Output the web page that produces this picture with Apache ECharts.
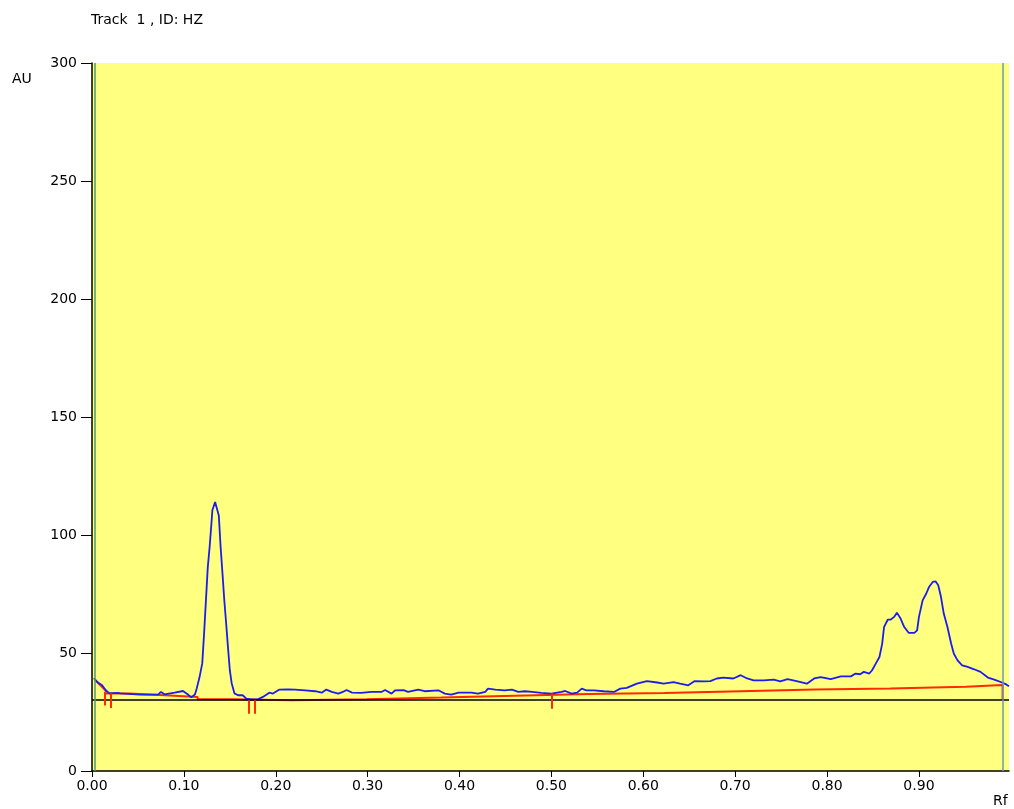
<!DOCTYPE html>
<html>
<head>
<meta charset="utf-8">
<script src="https://cdn.jsdelivr.net/npm/echarts@6/dist/echarts.min.js"></script>
<style>
html,body{margin:0;padding:0;background:#fff;}
#chart{width:1014px;height:809px;}
</style>
</head>
<body>
<div id="chart"></div>
<script>
// ---- data ----
const titleText = 'Track  1 , ID: HZ';
const xTicks = [0, 0.1, 0.2, 0.3, 0.4, 0.5, 0.6, 0.7, 0.8, 0.9];
const yTicks = [0, 50, 100, 150, 200, 250, 300];

const blueRf = [0.002,0.006,0.011,0.015,0.019,0.028,0.031,0.052,0.072,0.075,
0.079,0.090,0.099,0.104,0.108,0.112,0.114,0.117,0.120,0.122,
0.124,0.126,0.128,0.130,0.131,0.134,0.136,0.138,0.140,0.142,
0.144,0.146,0.148,0.150,0.152,0.155,0.159,0.164,0.168,0.173,
0.180,0.186,0.193,0.197,0.204,0.213,0.221,0.232,0.243,0.250,
0.255,0.261,0.268,0.273,0.277,0.283,0.293,0.304,0.315,0.319,
0.326,0.330,0.339,0.344,0.355,0.362,0.377,0.384,0.391,0.399,
0.413,0.420,0.428,0.431,0.439,0.449,0.457,0.464,0.471,0.479,
0.489,0.500,0.511,0.515,0.522,0.528,0.533,0.538,0.546,0.557,
0.568,0.575,0.582,0.593,0.604,0.615,0.622,0.633,0.640,0.649,
0.656,0.666,0.673,0.680,0.687,0.698,0.706,0.713,0.720,0.731,
0.742,0.749,0.757,0.768,0.778,0.786,0.793,0.804,0.815,0.826,
0.831,0.836,0.840,0.846,0.849,0.853,0.857,0.860,0.862,0.866,
0.869,0.873,0.876,0.880,0.884,0.889,0.895,0.898,0.900,0.904,
0.908,0.911,0.915,0.918,0.921,0.924,0.927,0.931,0.935,0.938,
0.942,0.947,0.953,0.960,0.967,0.975,0.982,0.989,0.995,0.998];
const blueAU = [39.3,37.6,36.3,34.2,32.9,33.1,32.9,32.4,32.4,33.5,
32.5,33.2,33.9,32.5,31.2,32.4,35.0,39.7,45.6,58.3,
72.3,86.3,94.8,105.0,110.5,114.0,113.4,108.3,94.8,83.8,
72.3,62.6,52.4,42.7,37.2,32.9,32.1,32.1,30.7,30.3,
30.3,31.4,33.2,32.8,34.5,34.6,34.5,34.2,33.8,33.2,
34.5,33.5,32.8,33.5,34.3,33.2,33.1,33.5,33.5,34.3,
32.8,34.2,34.3,33.5,34.5,33.8,34.2,32.8,32.4,33.2,
33.2,32.8,33.5,34.9,34.5,34.2,34.5,33.5,33.8,33.5,
33.1,32.8,33.5,33.9,32.8,33.2,34.9,34.2,34.2,33.8,
33.5,34.9,35.2,37.0,38.1,37.5,37.0,37.7,37.0,36.3,
38.1,38.0,38.1,39.2,39.6,39.2,40.6,39.2,38.4,38.4,
38.7,38.0,38.9,38.0,37.0,39.2,39.8,38.9,40.1,40.1,
41.3,41.0,42.0,41.3,42.7,45.5,48.3,54.0,61.0,64.1,
64.1,65.3,67.1,64.6,61.0,58.5,58.5,59.6,65.3,72.3,
75.2,78.0,80.1,80.4,78.7,73.7,66.7,61.0,54.0,49.7,
46.9,44.8,44.1,43.1,42.0,39.6,38.7,37.7,36.7,35.9];

// integration baseline (red)
const redRf = [0.003,0.015, 0.015,0.041, 0.041,0.079, 0.079,0.115, 0.115,0.153, 0.153,0.217,
  0.217,0.299, 0.299,0.380, 0.380,0.460, 0.460,0.540, 0.540,0.623, 0.623,0.706,
  0.706,0.787, 0.787,0.869, 0.869,0.951, 0.951,0.991, 0.991];
const redAU = [38.8,34.0, 32.8,32.8, 32.1,32.1, 31.4,31.4, 30.4,30.4, 30.0,30.0,
  30.4,30.4, 31.1,31.1, 31.9,31.9, 32.6,32.6, 33.1,33.1, 33.8,33.8,
  34.5,34.5, 35.0,35.0, 35.7,35.7, 36.4,36.4, 30.0];

// peak start/end markers
const markRf = [0.014, 0.020, 0.171, 0.177, 0.500];
const markTop = [33.5, 32.8, 30.0, 30.0, 32.8];
const markBottom = [27.8, 26.7, 24.3, 24.3, 26.4];

const baselineAU = 30;
const startRf = 0.0025;
const frontRf = 0.991;

// ---- chart ----
const chart = echarts.init(document.getElementById('chart'));
const font = 'DejaVu Sans';

const markData = markRf.map((x, i) => [
  { coord: [x, markTop[i]] }, { coord: [x, markBottom[i]] }
]);

chart.setOption({
  animation: false,
  backgroundColor: '#ffffff',
  grid: { left: 92, right: 5, top: 63, bottom: 38, show: true, backgroundColor: '#ffff80', borderWidth: 0 },
  graphic: [
    { type: 'text', left: 91, top: 13, style: { text: titleText, font: '14px ' + font, fill: '#000' } },
    { type: 'text', left: 12, top: 72, style: { text: 'AU', font: '14px ' + font, fill: '#000' } },
    { type: 'text', left: 993, top: 794, style: { text: 'Rf', font: '14px ' + font, fill: '#000' } }
  ],
  xAxis: {
    type: 'value', min: 0, max: 0.998,
    axisLine: { show: true, onZero: false, lineStyle: { color: '#000', width: 1.5 } },
    axisTick: { show: true, length: 6, customValues: xTicks, lineStyle: { color: '#000' } },
    axisLabel: { customValues: xTicks, margin: 8, color: '#000', fontFamily: font, fontSize: 14,
      formatter: v => v.toFixed(2) },
    splitLine: { show: false }
  },
  yAxis: {
    type: 'value', min: 0, max: 300, interval: 50,
    axisLine: { show: true, lineStyle: { color: '#000', width: 1.5 } },
    axisTick: { show: true, length: 11, lineStyle: { color: '#000' } },
    axisLabel: { margin: 15, color: '#000', fontFamily: font, fontSize: 14 },
    splitLine: { show: false }
  },
  series: [
    {
      type: 'line', name: 'guides', data: [], silent: true,
      markLine: {
        symbol: 'none', silent: true, label: { show: false },
        data: [
          [{ coord: [0, baselineAU], lineStyle: { color: '#000', width: 1.5 } }, { coord: [0.998, baselineAU] }],
          [{ coord: [startRf, 0], lineStyle: { color: '#4f9a74', width: 1.5 } }, { coord: [startRf, 300] }],
          [{ coord: [frontRf, 0], lineStyle: { color: '#6a9ab4', width: 1.5 } }, { coord: [frontRf, 300] }]
        ],
        lineStyle: { type: 'solid' }
      }
    },
    {
      type: 'line', name: 'baseline',
      data: redRf.map((x, i) => [x, redAU[i]]),
      showSymbol: false, symbol: 'none',
      lineStyle: { color: '#ff2a00', width: 2 },
      markLine: {
        symbol: 'none', silent: true, label: { show: false },
        lineStyle: { color: '#ff2a00', width: 2, type: 'solid' },
        data: markData
      }
    },
    {
      type: 'line', name: 'Track 1',
      data: blueRf.map((x, i) => [x, blueAU[i]]),
      showSymbol: false, symbol: 'none',
      lineStyle: { color: '#1c1cf0', width: 1.8 }
    }
  ]
});
</script>
</body>
</html>
